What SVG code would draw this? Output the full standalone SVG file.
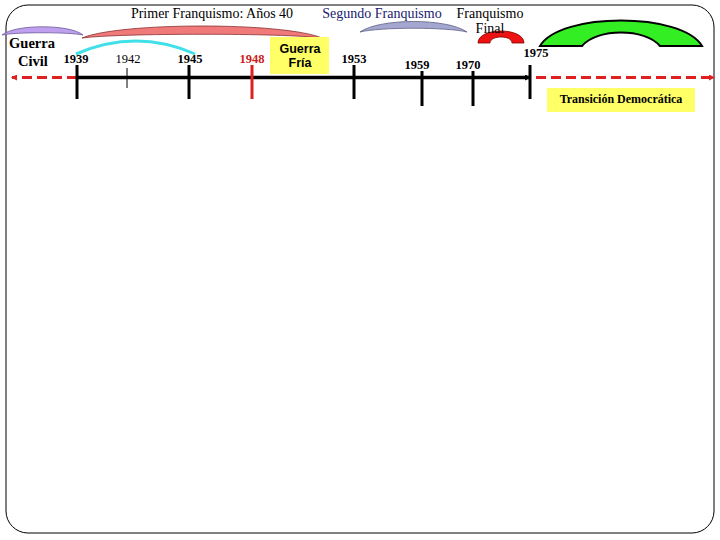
<svg xmlns="http://www.w3.org/2000/svg" width="720" height="540" viewBox="0 0 720 540">
<defs>
<marker id="redArrow" markerWidth="6" markerHeight="6" refX="5" refY="3" orient="auto" markerUnits="userSpaceOnUse"><path d="M0,0 L6,3 L0,6 Z" fill="#e02020"/></marker>
<marker id="blackArrow" markerWidth="6" markerHeight="6" refX="5" refY="3" orient="auto" markerUnits="userSpaceOnUse"><path d="M0,0 L6,3 L0,6 Z" fill="#000"/></marker>
<style>
.title{font-family:"Liberation Serif","Times New Roman",serif;font-size:14px;fill:#000}
.serifb{font-family:"Liberation Serif","Times New Roman",serif;font-weight:bold;fill:#000;text-anchor:middle}
.sansb{font-family:"Liberation Sans",Arial,sans-serif;font-weight:bold;fill:#000;text-anchor:middle}
.year{font-family:"Liberation Serif","Times New Roman",serif;font-size:12.5px;font-weight:bold;fill:#000;text-anchor:middle}
.tick{stroke:#000;stroke-width:3}
.dash{stroke:#e02020;stroke-width:3;stroke-dasharray:10 5;fill:none}
.box{fill:#ffff66}
</style>
</defs>
<rect x="0" y="0" width="720" height="540" fill="#fff"/>
<rect x="6" y="5" width="708" height="528" rx="22" ry="22" fill="none" stroke="#000" stroke-width="1"/>

<g id="periods">
<path d="M2,35 C15,24 70,24 83,35 C70,32 15,32 2,35 Z" fill="#c0a0ee" stroke="#6a5a9a" stroke-width="0.8"/>
<path d="M82,38 C120,22 284,22 322,38 C284,33 120,33 82,38 Z" fill="#f07a7a" stroke="#8a3030" stroke-width="0.8"/>
<path d="M76,54 Q136,28 195,54" fill="none" stroke="#40e0e8" stroke-width="3"/>
<path d="M360,32 C380,18 447,18 467,32 C447,27 380,27 360,32 Z" fill="#a4a8d0" stroke="#606088" stroke-width="0.8"/>
<path d="M478,43 C478,27 524,27 524,43 L512,43 C512,35 490,35 490,43 Z" fill="#ee1111" stroke="#800000" stroke-width="0.8"/>
<path d="M540,46 C560,12 682,12 702,46 L660,46 C645,28 597,28 582,46 Z" fill="#33ee22" stroke="#000" stroke-width="2"/>
</g>

<g id="titles">
<text class="title" x="212" y="18" text-anchor="middle">Primer Franquismo: Años 40</text>
<text class="title" x="382" y="18" text-anchor="middle" style="fill:#202070">Segundo Franquismo</text>
<text class="title" x="490" y="18" text-anchor="middle">Franquismo</text>
<text class="title" x="490" y="33" text-anchor="middle">Final</text>
</g>

<g id="guerra-civil">
<text class="serifb" x="32" y="48" font-size="14.5">Guerra</text>
<text class="serifb" x="33" y="66" font-size="14.5">Civil</text>
</g>

<g id="guerra-fria">
<rect class="box" x="270" y="37" width="59" height="37"/>
<text class="sansb" x="300" y="53" font-size="12.5">Guerra</text>
<text class="sansb" x="300" y="67" font-size="12.5">Fría</text>
</g>

<g id="transicion">
<rect class="box" x="547" y="88" width="148" height="24"/>
<text class="serifb" x="621" y="103" font-size="12">Transición Democrática</text>
</g>

<g id="connectors">
<line class="dash" x1="77" y1="77.5" x2="12" y2="77.5" marker-end="url(#redArrow)"/>
<line class="dash" x1="536" y1="77.5" x2="714" y2="77.5" marker-end="url(#redArrow)"/>
<line x1="77" y1="77.5" x2="530" y2="77.5" stroke="#000" stroke-width="3.3" marker-end="url(#blackArrow)"/>
</g>

<g id="ticks">
<line class="tick" x1="77" y1="65" x2="77" y2="99"/>
<line x1="127" y1="68" x2="127" y2="88" stroke="#000" stroke-width="1"/>
<line class="tick" x1="189" y1="65" x2="189" y2="99"/>
<line x1="252" y1="65" x2="252" y2="99" stroke="#dd2020" stroke-width="3"/>
<line class="tick" x1="354" y1="65" x2="354" y2="99"/>
<line class="tick" x1="422" y1="71" x2="422" y2="106"/>
<line class="tick" x1="473" y1="71" x2="473" y2="106"/>
<line class="tick" x1="530" y1="65" x2="530" y2="99"/>
</g>

<g id="years">
<text class="year" x="76" y="63">1939</text>
<text class="year" x="128" y="63" style="font-weight:normal">1942</text>
<text class="year" x="190" y="63">1945</text>
<text class="year" x="252" y="63" style="fill:#cc2020">1948</text>
<text class="year" x="354" y="63">1953</text>
<text class="year" x="417" y="69">1959</text>
<text class="year" x="468" y="69">1970</text>
<text class="year" x="536" y="57">1975</text>
</g>
</svg>
